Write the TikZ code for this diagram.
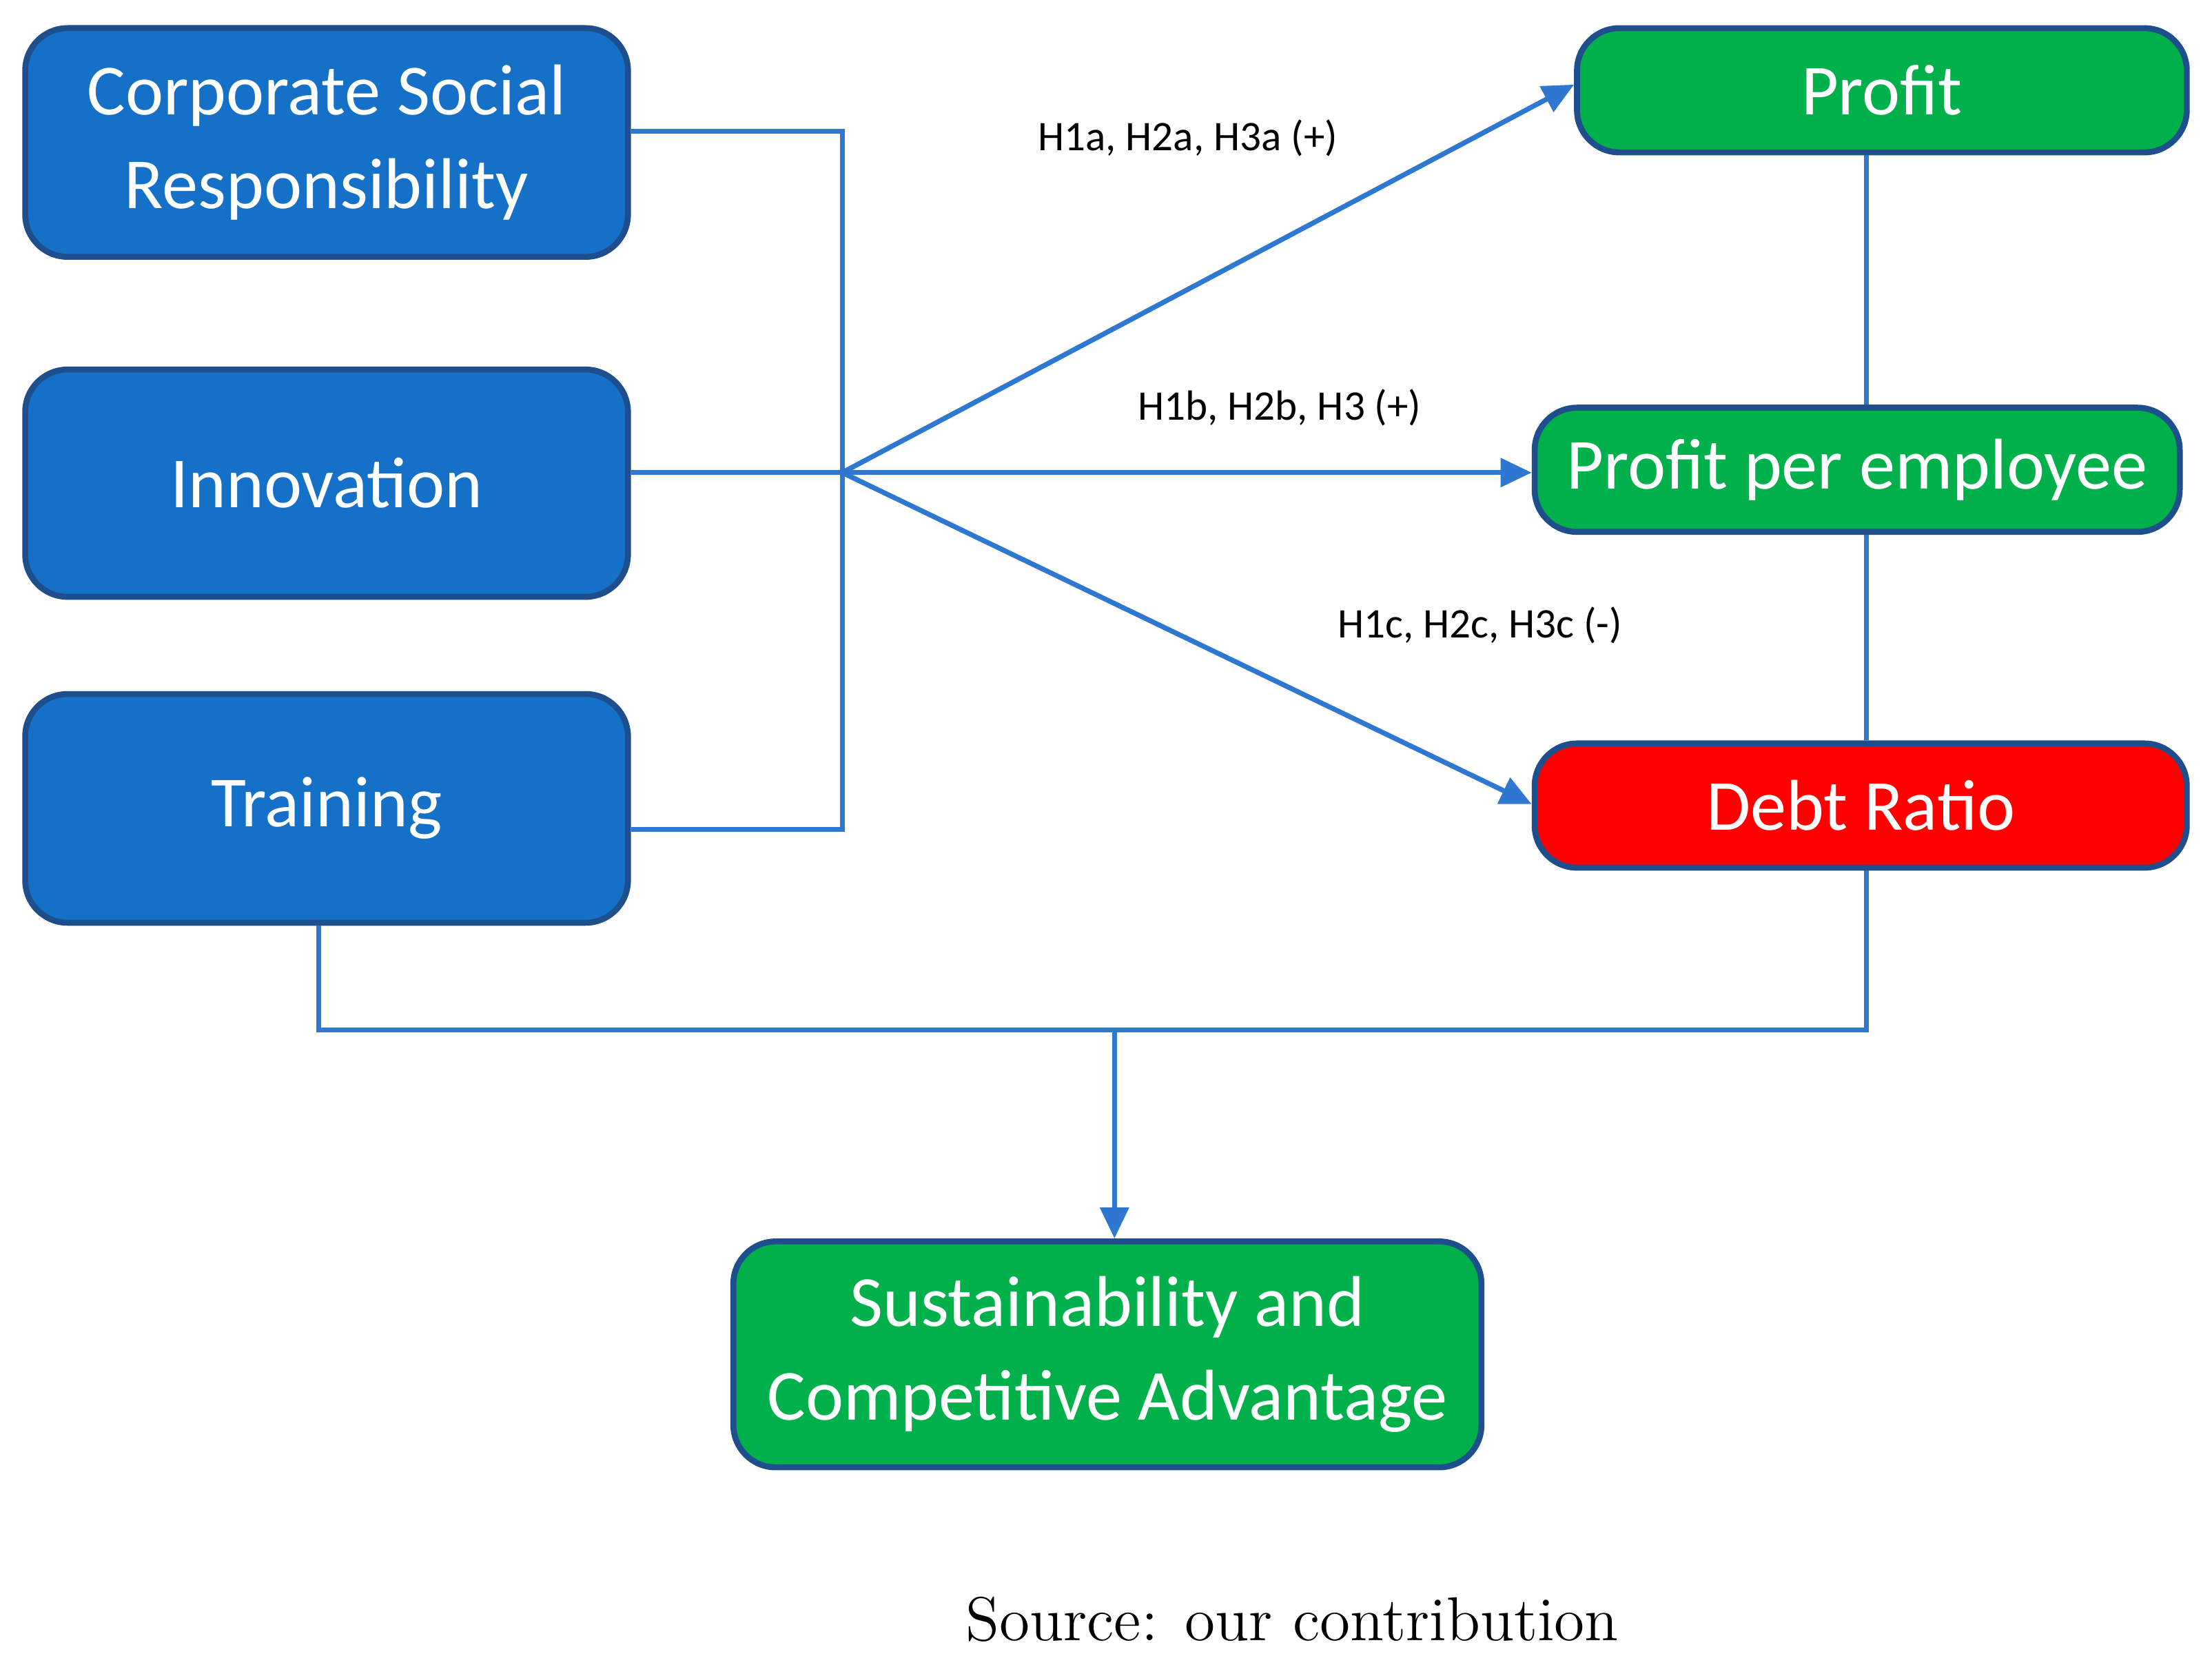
\documentclass[tikz,border=0pt]{standalone}
\usepackage{fontspec}
\setmainfont{Carlito}
\newfontfamily\srcfont{Latin Modern Roman}
\usetikzlibrary{arrows.meta}
\definecolor{boxblue}{HTML}{1570C8}
\definecolor{edgeblue}{HTML}{1F4E8C}
\definecolor{boxgreen}{HTML}{00B04B}
\definecolor{boxred}{HTML}{FF0000}
\definecolor{linkblue}{HTML}{2E78D2}
\begin{document}
\begin{tikzpicture}[x=0.01cm,y=-0.01cm,
  box/.style={draw=edgeblue, line width=1.2pt, rounded corners=0.3cm, text=white,
    align=center, inner sep=0pt, font=\fontsize{14.5}{19}\selectfont},
  link/.style={draw=linkblue, line width=1pt},
  arr/.style={link, -{Triangle[length=0.22cm,width=0.2cm]}},
  hyp/.style={font=\fontsize{8.5}{10}\selectfont}]
\useasboundingbox (0,0) rectangle (1568,1180);
% sources
\node[box, fill=boxblue, minimum width=4.27cm, minimum height=1.62cm] (csr) at (231.5,101) {Corporate Social\\Responsibility};
\node[box, fill=boxblue, minimum width=4.27cm, minimum height=1.61cm] (inn) at (231.5,342.5) {Innovation};
\node[box, fill=boxblue, minimum width=4.27cm, minimum height=1.62cm] (trn) at (231.5,573) {Training};
% outcomes
\node[box, fill=boxgreen, minimum width=4.32cm, minimum height=0.88cm] (pro) at (1334,64) {Profit};
\node[box, fill=boxgreen, minimum width=4.57cm, minimum height=0.88cm] (ppe) at (1316.5,333) {Profit per employee};
\node[box, fill=boxred, minimum width=4.62cm, minimum height=0.88cm] (debt) at (1319,571) {Debt Ratio};
\node[box, fill=boxgreen, minimum width=5.30cm, minimum height=1.60cm] (sca) at (785,960) {Sustainability and\\Competitive Advantage};
% junctions
\coordinate (top) at (597,93);
\coordinate (bot) at (597,588);
\coordinate (j) at (597,335);
\coordinate (tb) at (226,730);
\coordinate (db) at (1323,730);
\coordinate (m) at (790,730);
\draw[link] (csr.east |- top) -- (top) -- (bot) -- (trn.east |- bot);
\draw[link] (inn.east |- j) -- (j);
\draw[arr] (j) -- (pro.west |- 0,60);
\draw[arr] (j) -- (ppe.west |- j);
\draw[arr] (j) -- (debt.west |- 0,570);
\draw[link] (pro.south -| db) -- (ppe.north -| db);
\draw[link] (ppe.south -| db) -- (debt.north -| db);
\draw[link] (trn.south -| tb) -- (tb) -- (db) -- (debt.south -| db);
\draw[arr] (m) -- (sca.north -| m);
% labels
\node[hyp] (la) at (842,98) {H1a, H2a, H3a (+)};
\node[hyp] (lb) at (907,289) {H1b, H2b, H3 (+)};
\node[hyp] (lc) at (1049,443) {H1c, H2c, H3c (-)};
\node[font=\srcfont\fontsize{12.5}{14}\selectfont] (src) at (916,1148) {Source: our contribution};
\end{tikzpicture}
\end{document}
